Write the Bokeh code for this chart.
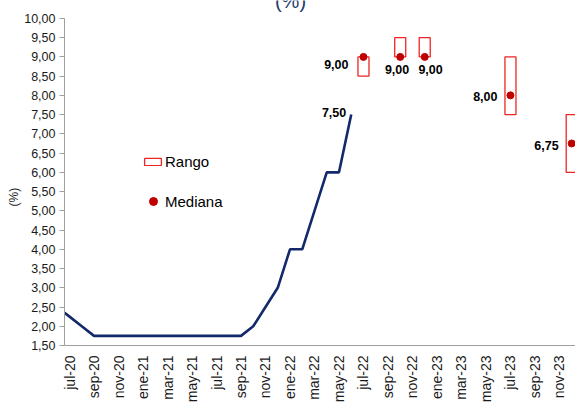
import math

from bokeh.core.properties import value
from bokeh.embed import file_html
from bokeh.models import ColumnDataSource, FixedTicker, Label, Legend, LegendItem, Range1d, Title
from bokeh.plotting import figure
from bokeh.resources import INLINE

# Policy rate, monthly (%)
rate_month = [
    "2020-06", "2020-07", "2020-08", "2020-09", "2020-10", "2020-11", "2020-12",
    "2021-01", "2021-02", "2021-03", "2021-04", "2021-05", "2021-06",
    "2021-07", "2021-08", "2021-09", "2021-10", "2021-11", "2021-12",
    "2022-01", "2022-02", "2022-03", "2022-04", "2022-05", "2022-06",
]
rate_value = [
    2.50, 2.25, 2.00, 1.75, 1.75, 1.75, 1.75,
    1.75, 1.75, 1.75, 1.75, 1.75, 1.75,
    1.75, 1.75, 1.75, 2.00, 2.50, 3.00,
    4.00, 4.00, 5.00, 6.00, 6.00, 7.50,
]

# Survey expectations: median and range
survey_month = ["2022-07", "2022-10", "2022-12", "2023-07", "2023-12"]
survey_median = [9.00, 9.00, 9.00, 8.00, 6.75]
survey_low = [8.50, 9.00, 9.00, 7.50, 6.00]
survey_high = [9.00, 9.50, 9.50, 9.00, 7.50]

x_tick_labels = [
    "jul-20", "sep-20", "nov-20", "ene-21", "mar-21", "may-21", "jul-21",
    "sep-21", "nov-21", "ene-22", "mar-22", "may-22", "jul-22", "sep-22",
    "nov-22", "ene-23", "mar-23", "may-23", "jul-23", "sep-23", "nov-23",
]
y_tick_values = [1.5, 2.0, 2.5, 3.0, 3.5, 4.0, 4.5, 5.0, 5.5, 6.0,
                 6.5, 7.0, 7.5, 8.0, 8.5, 9.0, 9.5, 10.0]
y_tick_labels = ["1,50", "2,00", "2,50", "3,00", "3,50", "4,00", "4,50", "5,00", "5,50",
                 "6,00", "6,50", "7,00", "7,50", "8,00", "8,50", "9,00", "9,50", "10,00"]

# label placement for the survey values (pixels, y downwards)
label_dx = [-15, 9, 18, -13, -13]
label_dy = [8, 13, 13, 1, 2]

FONT = "Liberation Sans"
NAVY = "#13296b"
BOX_RED = "#f02424"
DOT_RED = "#c00000"
AXIS_GREY = "#a0a0a0"


def month_index(s):
    y, m = (int(t) for t in s.split("-"))
    return (y - 2020) * 12 + (m - 7)


def fmt(v):
    return f"{v:.2f}".replace(".", ",")


rate_x = [month_index(s) for s in rate_month]
survey_x = [month_index(s) for s in survey_month]
half_w = 0.45

# the frame runs up to the top edge so the heading can sit inside it;
# the axis itself stops at 10
y_lo, y_hi = y_tick_values[0], y_tick_values[-1]
y_top = y_hi + 18 * (y_hi - y_lo) / 329

p = figure(
    width=575, height=405,
    x_range=Range1d(-0.41, 41.31), y_range=Range1d(y_lo, y_top),
    output_backend="svg", toolbar_location=None,
    min_border_left=64, min_border_right=0, min_border_top=0, min_border_bottom=58,
)
p.outline_line_color = None
p.grid.visible = False
p.background_fill_color = "white"

# x axis
p.xaxis.ticker = FixedTicker(ticks=[2 * i for i in range(len(x_tick_labels))])
p.xaxis.major_label_overrides = {2 * i: lab for i, lab in enumerate(x_tick_labels)}
p.xaxis.major_label_orientation = math.pi / 2
p.xaxis.major_tick_out = 0
p.xaxis.major_tick_in = 0
p.xaxis.minor_tick_line_color = None
p.xaxis.axis_line_color = AXIS_GREY
p.xaxis.major_label_standoff = 10
p.xaxis.major_label_text_font = FONT
p.xaxis.major_label_text_font_size = "14px"
p.xaxis.major_label_text_color = "#1a1a1a"

# y axis
p.yaxis.ticker = FixedTicker(ticks=y_tick_values)
p.yaxis.bounds = (y_lo, y_hi)
p.yaxis.major_label_overrides = {
    (int(v) if v == int(v) else v): lab for v, lab in zip(y_tick_values, y_tick_labels)
}
p.yaxis.major_tick_out = 5
p.yaxis.major_tick_in = 0
p.yaxis.minor_tick_line_color = None
p.yaxis.axis_line_color = AXIS_GREY
p.yaxis.major_tick_line_color = AXIS_GREY
p.yaxis.major_label_standoff = 4
p.yaxis.major_label_text_font = FONT
p.yaxis.major_label_text_font_size = "12.5px"
p.yaxis.major_label_text_color = "#1a1a1a"

# y axis caption
p.add_layout(Title(
    text="(%)", align="left", offset=139, standoff=2,
    text_font=FONT, text_font_size="12px", text_font_style="normal", text_color="#1a1a1a",
), "left")

# policy rate line
p.line(rate_x, rate_value, line_color=NAVY, line_width=2.6)
p.text(
    x=[rate_x[-1]], y=[rate_value[-1]], text=[fmt(rate_value[-1])],
    x_offset=-5, y_offset=-2, text_align="right", text_baseline="middle",
    text_font=value(FONT), text_font_style="bold", text_font_size="12.5px", text_color="black",
)

# survey ranges and medians
src = ColumnDataSource(dict(
    left=[x - half_w for x in survey_x],
    right=[x + half_w for x in survey_x],
    low=survey_low, high=survey_high,
    x=survey_x, med=survey_median,
    label=[fmt(v) for v in survey_median],
    dx=label_dx, dy=label_dy,
))
boxes = p.quad(left="left", right="right", bottom="low", top="high", source=src,
               fill_alpha=0, line_color=BOX_RED, line_width=1.3)
dots = p.scatter("x", "med", source=src, size=7, color=DOT_RED)
p.text(
    x="x", y="med", text="label", x_offset="dx", y_offset="dy", source=src,
    text_align="right", text_baseline="middle",
    text_font=value(FONT), text_font_style="bold", text_font_size="12.5px", text_color="black",
)

# legend
leg_range = Legend(
    items=[LegendItem(label="Rango", renderers=[boxes])],
    location=(78, 175), glyph_width=21, glyph_height=9, label_height=9,
    label_standoff=2, padding=0, margin=0, spacing=0,
    border_line_color=None, background_fill_alpha=0,
    label_text_font=FONT, label_text_font_size="15px", label_text_color="black",
)
leg_median = Legend(
    items=[LegendItem(label="Mediana", renderers=[dots])],
    location=(79, 134), glyph_width=20, glyph_height=20, label_height=20,
    label_standoff=2, padding=0, margin=0, spacing=0,
    border_line_color=None, background_fill_alpha=0,
    label_text_font=FONT, label_text_font_size="15px", label_text_color="black",
)
p.add_layout(leg_range)
p.add_layout(leg_median)

# heading, partly above the top edge
p.add_layout(Label(
    x=226, y=345, x_units="screen", y_units="screen", text="(%)",
    text_align="center", text_baseline="alphabetic",
    text_font=FONT, text_font_size="20px", text_color="#243c6a",
))

open("out.html", "w").write(file_html(p, INLINE))
